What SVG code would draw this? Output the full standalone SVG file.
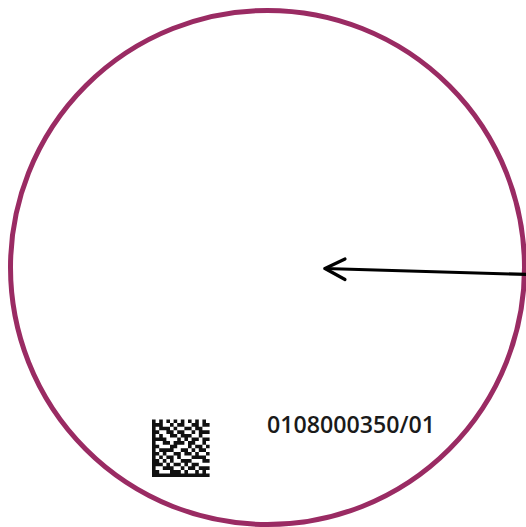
<svg xmlns="http://www.w3.org/2000/svg" width="526" height="527" viewBox="0 0 526 527">
<style>
.ring{fill:none;stroke:#9a2b63;stroke-width:5}
.conn{fill:none;stroke:#000;stroke-width:3.2;stroke-linecap:round;stroke-linejoin:round}
.lbl{font-family:"Open Sans","DejaVu Sans",sans-serif;font-size:23px;font-weight:600;fill:#1a1a1a}
</style>
<rect width="526" height="527" fill="#fff"/>
<g id="disc"><circle class="ring" cx="267.5" cy="267.5" r="257"/></g>
<g id="code">
<path fill="#111" transform="translate(152,419.5) scale(3.6)" d="M0 0h1v1h-1zM2 0h1v1h-1zM4 0h1v1h-1zM6 0h1v1h-1zM8 0h1v1h-1zM10 0h1v1h-1zM12 0h1v1h-1zM14 0h1v1h-1z
M0 1h3v1h-3zM5 1h1v1h-1zM7 1h2v1h-2zM11 1h2v1h-2zM14 1h2v1h-2z
M0 2h1v1h-1zM2 2h3v1h-3zM6 2h1v1h-1zM9 2h2v1h-2zM12 2h2v1h-2z
M0 3h2v1h-2zM4 3h2v1h-2zM7 3h2v1h-2zM11 3h1v1h-1zM13 3h3v1h-3z
M0 4h1v1h-1zM2 4h1v1h-1zM5 4h2v1h-2zM8 4h3v1h-3zM13 4h1v1h-1z
M0 5h4v1h-4zM7 5h1v1h-1zM9 5h1v1h-1zM11 5h2v1h-2zM14 5h2v1h-2z
M0 6h1v1h-1zM3 6h2v1h-2zM6 6h3v1h-3zM10 6h2v1h-2zM14 6h1v1h-1z
M0 7h2v1h-2zM5 7h2v1h-2zM10 7h1v1h-1zM12 7h2v1h-2zM15 7h1v1h-1z
M0 8h1v1h-1zM2 8h4v1h-4zM8 8h2v1h-2zM11 8h1v1h-1zM13 8h2v1h-2z
M0 9h2v1h-2zM3 9h1v1h-1zM6 9h2v1h-2zM9 9h2v1h-2zM12 9h1v1h-1zM15 9h1v1h-1z
M0 10h1v1h-1zM2 10h1v1h-1zM4 10h2v1h-2zM7 10h1v1h-1zM11 10h4v1h-4z
M0 11h2v1h-2zM3 11h1v1h-1zM5 11h1v1h-1zM8 11h3v1h-3zM14 11h2v1h-2z
M0 12h3v1h-3zM4 12h1v1h-1zM6 12h2v1h-2zM9 12h1v1h-1zM11 12h2v1h-2z
M0 13h1v1h-1zM3 13h3v1h-3zM8 13h1v1h-1zM10 13h2v1h-2zM13 13h3v1h-3z
M0 14h2v1h-2zM5 14h3v1h-3zM9 14h1v1h-1zM12 14h1v1h-1zM14 14h1v1h-1z
M0 15h16v1h-16z"/>
</g>
<g id="label"><text class="lbl" x="267" y="433" textLength="168" lengthAdjust="spacingAndGlyphs">0108000350/01</text></g>
<g id="connectors">
<path class="conn" d="M527 274.5L325 268.5"/>
<path class="conn" d="M345 259L325 268.5L345 279.5"/>
</g>
</svg>
